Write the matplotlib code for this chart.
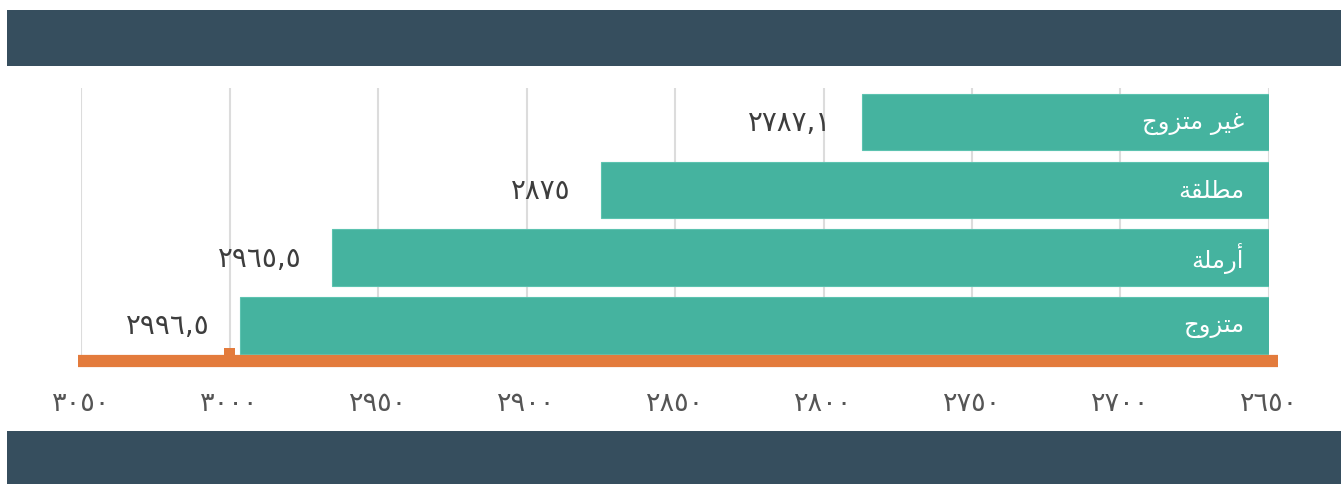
import matplotlib
matplotlib.use("Agg")
import matplotlib.pyplot as plt
from matplotlib.patches import Rectangle
from matplotlib.transforms import blended_transform_factory

plt.rcParams["font.family"] = ["DejaVu Sans", "Noto Sans"]

# categories, pre-shaped (Arabic presentation forms, visual order) since matplotlib has no shaping
categories = [
    "\uFE9D\uFEED\uFEB0\uFE98\uFEE3 \uFEAE\uFEF4\uFECF",  # غير متزوج
    "\uFE94\uFED8\uFEE0\uFEC4\uFEE3",                      # مطلقة
    "\uFE94\uFEE0\uFEE3\uFEAD\uFE83",                      # أرملة
    "\uFE9D\uFEED\uFEB0\uFE98\uFEE3",                      # متزوج
]
values = [2787.1, 2875, 2965.5, 2996.5]
ticks = [3050, 3000, 2950, 2900, 2850, 2800, 2750, 2700, 2650]
base = 2650

AR_DIGITS = str.maketrans("0123456789", "\u0660\u0661\u0662\u0663\u0664\u0665\u0666\u0667\u0668\u0669")


def ar_num(v):
    s = f"{v:g}".replace(".", ",")
    return s.translate(AR_DIGITS)


W, H = 1341, 485
fig = plt.figure(figsize=(W / 100, H / 100), dpi=100)
fig.patch.set_facecolor("white")

dark = "#364e5e"
teal = "#45b39f"
orange = "#e37b3c"

# header / footer bands
fig.add_artist(Rectangle((7 / W, 1 - 67 / H), 1 - 7 / W, 56 / H, transform=fig.transFigure,
                         facecolor=dark, edgecolor="none"))
fig.add_artist(Rectangle((7 / W, 0), 1 - 7 / W, 53 / H, transform=fig.transFigure,
                         facecolor=dark, edgecolor="none"))

ax = fig.add_axes([81 / W, 1 - 356 / H, (1269 - 81) / W, (356 - 89) / H])
ax.set_xlim(3050, 2650)
pitch = 67.8
ax.set_ylim((356 - 123) / pitch, (89 - 123) / pitch)

ypos = list(range(len(categories)))
widths = [v - base for v in values]
ax.barh(ypos, widths, left=base, height=0.83, color=teal, edgecolor="#5cc3b0",
        linewidth=0.8, zorder=3)

for y, v, c in zip(ypos, values, categories):
    ax.annotate(ar_num(v), (v, y), xytext=(-22, 0), textcoords="offset points",
                ha="right", va="center", fontsize=20, color="#3d3d3d", zorder=4)
    ax.annotate(c, (base, y), xytext=(-18, 0), textcoords="offset points",
                ha="right", va="center", fontsize=17.5, color="white", zorder=4)

ax.set_xticks(ticks)
ax.set_xticklabels([ar_num(t) for t in ticks], fontsize=19.5, color="#555555")
ax.tick_params(axis="x", length=0, pad=25)
ax.set_yticks([])
ax.grid(axis="x", color="#dcdcdc", linewidth=1.5, zorder=0)
ax.set_axisbelow(True)
for s in ax.spines.values():
    s.set_visible(False)

# orange baseline with small marker at 3000
trans = blended_transform_factory(ax.transAxes, ax.transAxes)
ax.plot([-3 / 1188, 1 + 9 / 1188], [-6 / 267, -6 / 267], transform=trans,
        color=orange, linewidth=8.8, solid_capstyle="butt", clip_on=False, zorder=5)
btrans = blended_transform_factory(ax.transData, ax.transAxes)
ax.add_patch(Rectangle((2998.3, 0), 3.4, 7 / 267, transform=btrans,
                       facecolor=orange, edgecolor="none", clip_on=False, zorder=5))

fig.savefig("out.png", dpi=100)
